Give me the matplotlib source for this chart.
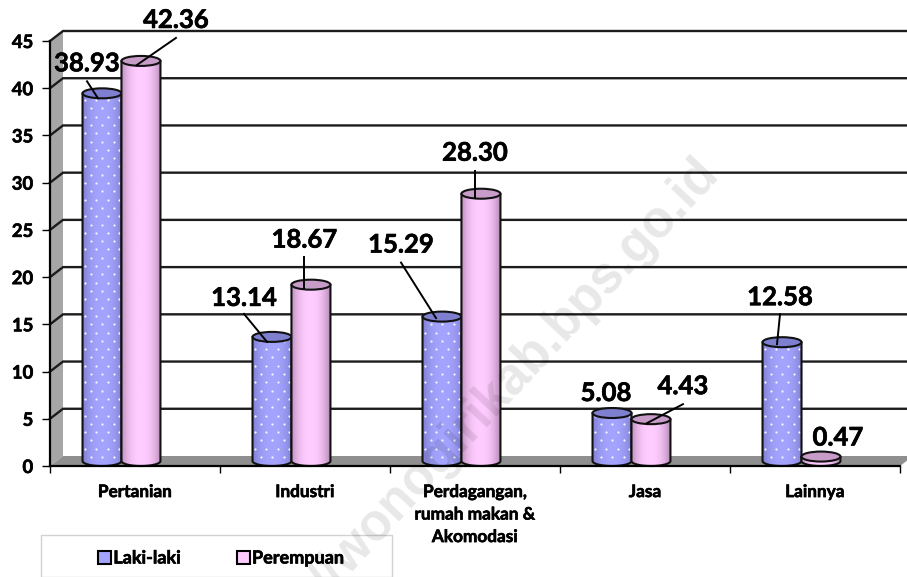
import numpy as np
import matplotlib
matplotlib.use("Agg")
import matplotlib.pyplot as plt
import matplotlib.patheffects as pe
from matplotlib.patches import Polygon, Ellipse, Rectangle, Patch
from matplotlib.colors import LinearSegmentedColormap

categories = ["Pertanian", "Industri", "Perdagangan,\nrumah makan &\nAkomodasi", "Jasa", "Lainnya"]
series_names = ["Laki-laki", "Perempuan"]
laki = [38.93, 13.14, 15.29, 5.08, 12.58]
perempuan = [42.36, 18.67, 28.30, 4.43, 0.47]
y_ticks = [0, 5, 10, 15, 20, 25, 30, 35, 40, 45]

# label layout, px relative to bar top centre: label centre, leader start, leader end
layout_laki = [((-15, -33), (-15, -12), (-4, 5)),
               ((-28, -42), (-28, -23), (-5, 5)),
               ((-41, -75), (-41, -54), (-6, 1.5)),
               ((-6, -23), None, None),
               ((-2, -48), (-2, -28), (-5, 2))]
layout_per = [((35, -44), (35, -23), (-4, 4)),
              ((-6.5, -48), (-6.5, -28), (-6.5, 3)),
              ((-6, -44), (-6, -23), (-6, 4)),
              ((32, -36), (32, -15), (-4, 4)),
              ((17, -22), None, None)]

W, H = 907, 577
plt.rcParams["font.family"] = ["Lato", "DejaVu Sans"]
plt.rcParams["font.weight"] = "bold"
fig = plt.figure(figsize=(W / 100, H / 100), dpi=100)
L, R, T, B = 50, 900, 41, 466
ax = fig.add_axes([L / W, 1 - B / H, (R - L) / W, (B - T) / H])
XMAX, YMAX = 5, 45
PX, PY = XMAX / (R - L), YMAX / (B - T)   # data units per pixel
DX, DY = 13 * PX, 10 * PY                 # 3-D depth
ax.patch.set_alpha(0)
INK = "#1c1c1c"
HEAVY = [pe.withStroke(linewidth=0.45, foreground="black")]

# walls and floor
ax.add_patch(Polygon([(0, 0), (0, YMAX), (DX, YMAX + DY), (DX, DY)], fc="#a6a6a6", ec="none",
                     zorder=1, clip_on=False))
ax.add_patch(Polygon([(0, 0), (XMAX, 0), (XMAX + DX, DY), (DX, DY)], fc="#8f8f8f", ec="none",
                     zorder=1, clip_on=False))
for v in y_ticks[1:]:
    ax.plot([0, DX, XMAX + DX], [v, v + DY, v + DY], color=INK, lw=1.7, zorder=2, clip_on=False,
            solid_joinstyle="miter")


def cylinder(cx_data, value, base, colors, dots, z):
    w = 39 * PX
    eh = 10 * PY
    yb = 5 * PY
    ytop = value + yb
    t = np.linspace(np.pi, 2 * np.pi, 40)
    xs = cx_data + w / 2 * np.cos(t)
    ys = yb + eh / 2 * np.sin(t)
    verts = [(cx_data - w / 2, ytop)] + list(zip(xs, ys)) + [(cx_data + w / 2, ytop)]
    outline = Polygon(verts, closed=True, fc="none", ec="none", transform=ax.transData)
    ax.add_patch(outline)
    cmap = LinearSegmentedColormap.from_list("c", colors)
    grad = np.abs(np.linspace(-1, 1, 64)) ** 2.4
    im = ax.imshow(grad[None, :], extent=[cx_data - w / 2, cx_data + w / 2, 0, ytop + eh],
                   aspect="auto", cmap=cmap, vmin=0, vmax=1, zorder=z, interpolation="bilinear")
    im.set_clip_path(outline)
    if dots:
        dxs, dys = [], []
        rows = np.arange(yb + 4 * PY, ytop, 8.3 * PY)
        for n, ry in enumerate(rows):
            for c in np.arange(-3, 4) * 11.5 * PX + (n % 2) * 5.7 * PX:
                dxs.append(cx_data + c)
                dys.append(ry)
        sc = ax.scatter(dxs, dys, s=2.6, c="white", linewidths=0, zorder=z + 0.1, alpha=0.9)
        sc.set_clip_path(outline)
    ax.add_patch(Polygon(verts, closed=True, fc="none", ec="#111111", lw=1.5, zorder=z + 0.2,
                         clip_on=False, joinstyle="round"))
    ax.add_patch(Ellipse((cx_data, ytop), w, eh, fc=base, ec="#111111", lw=1.5, zorder=z + 0.3,
                         clip_on=False))


colors_l = ["#a4a4ff", "#8080d4"]
colors_p = ["#ffccff", "#b98db9"]
for i in range(len(categories)):
    x_l = i + 0.306
    x_p = i + 0.535
    cylinder(x_l, laki[i], "#7f7fd0", colors_l, True, 3 + i * 2)
    cylinder(x_p, perempuan[i], "#c89cc8", colors_p, False, 3.5 + i * 2)
    for cx, v, lay in ((x_l, laki[i], layout_laki[i]), (x_p, perempuan[i], layout_per[i])):
        ytop = v + 5 * PY
        (lx, ly), st, en = lay
        ax.text(cx + lx * PX, ytop - (ly + 3) * PY, f"{v:.2f}", ha="center", va="center", fontsize=18.5,
                fontweight="bold", color="black", zorder=30, clip_on=False, path_effects=HEAVY)
        if st is not None:
            ax.plot([cx + st[0] * PX, cx + en[0] * PX], [ytop - st[1] * PY, ytop - en[1] * PY],
                    color="black", lw=1.4, zorder=29, clip_on=False)

ax.set_xlim(0, XMAX)
ax.set_ylim(0, YMAX)
for s in ("top", "right"):
    ax.spines[s].set_visible(False)
for s in ("left", "bottom"):
    ax.spines[s].set_linewidth(1.6)
    ax.spines[s].set_color("black")
    ax.spines[s].set_zorder(25)
ax.set_yticks(y_ticks)
ax.set_yticklabels([str(v) for v in y_ticks], fontsize=13.3, fontweight="bold", path_effects=HEAVY)
ax.set_xticks(range(XMAX + 1))
ax.set_xticklabels([])
ax.set_xticks([i + 0.5 for i in range(XMAX)], minor=True)
ax.set_xticklabels(categories, minor=True, fontsize=12.4, fontweight="bold", linespacing=1.5,
                   path_effects=HEAVY)
ax.tick_params(axis="x", which="minor", length=0, pad=13)
ax.tick_params(axis="x", which="major", length=5, width=1)
ax.tick_params(axis="y", length=6, width=1, pad=6)

# legend
fig.add_artist(Rectangle((41 / W, 0), 351 / W, 42 / H, fc="white", ec="#d2d2d2", lw=1,
                         transform=fig.transFigure))
handles = [Patch(fc="#a4a4ff", ec="black", lw=1.5, label=series_names[0]),
           Patch(fc="#ffccff", ec="black", lw=1.5, label=series_names[1])]
leg = fig.legend(handles=handles, frameon=False, ncol=2, loc="center",
                 bbox_to_anchor=(221 / W, 1 - 558 / H), handlelength=0.72, handleheight=0.72,
                 handletextpad=0.12, columnspacing=3.1, prop={"size": 13, "weight": "bold"})
for t in leg.get_texts():
    t.set_path_effects(HEAVY)

# watermark
fig.text(710 / W, 1 - 165 / H, "http://wonogirikab.bps.go.id", rotation=47, rotation_mode="anchor",
         ha="right", va="center", fontsize=37, family="Liberation Sans", fontweight="bold",
         color="black", alpha=0.095, zorder=50)

fig.savefig("out.png", dpi=100)
